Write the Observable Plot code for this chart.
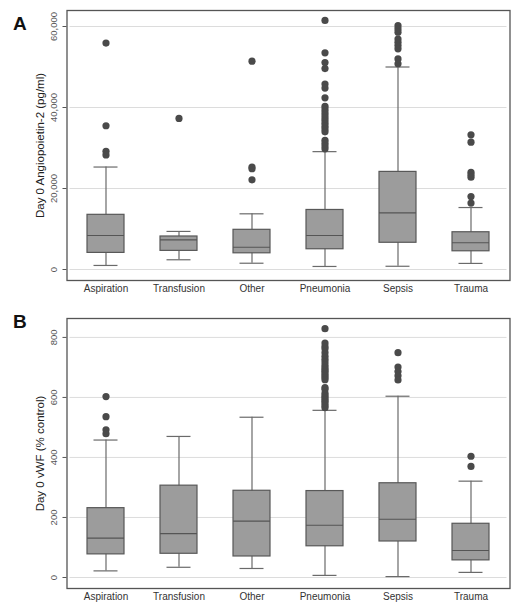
<!DOCTYPE html>
<html><head><meta charset="utf-8">
<script src="https://cdn.jsdelivr.net/npm/d3@7"></script>
<script src="https://cdn.jsdelivr.net/npm/@observablehq/plot@0.6"></script>
<style>
body{margin:0;background:#fff;font-family:"Liberation Sans",Arial,sans-serif;}
.panel{position:relative;width:519px;}
.letter{position:absolute;left:13px;font:bold 19px/1 "Liberation Sans",Arial,sans-serif;color:#111;}
svg{display:block}
</style></head><body>
<div id="A" class="panel"><div class="letter" style="top:14px">A</div></div>
<div id="B" class="panel"><div class="letter" style="top:12px">B</div></div>
<script>
const categories = ["Aspiration","Transfusion","Other","Pneumonia","Sepsis","Trauma"];

// Panel A: Day 0 Angiopoietin-2 (pg/ml)
const angTicks = [0, 20000, 40000, 60000];
const angLow    = [1000, 2400, 1550, 750, 800, 1500];
const angQ1     = [4100, 4600, 4000, 5000, 6600, 4500];
const angMedian = [8400, 7300, 5500, 8400, 14000, 6600];
const angQ3     = [13500, 8150, 9800, 14700, 24100, 9200];
const angHigh   = [25300, 9400, 13750, 29100, 50000, 15300];
const angOutliers = [
  [55900, 35500, 29200, 28300],
  [37300],
  [51450, 25300, 24900, 22150],
  [61500, 53500, 51100, 49600, 45800, 44800, 42400, 40300, 39600, 38900, 38200, 37500, 36800, 36100, 35400, 34700, 34000, 31900, 31200, 30500, 29800],
  [60200, 59400, 58600, 56900, 56100, 55300, 54500, 52000, 50800],
  [33250, 31450, 24000, 23400, 22800, 18000, 16400]
];

// Panel B: Day 0 vWF (% control)
const vwfTicks = [0, 200, 400, 600, 800];
const vwfLow    = [22, 34, 30, 7, 3, 17];
const vwfQ1     = [77, 79, 70, 104, 120, 57];
const vwfMedian = [131, 146, 188, 174, 194, 90];
const vwfQ3     = [231, 306, 289, 288, 314, 179];
const vwfHigh   = [458, 470, 534, 557, 604, 321];
const vwfOutliers = [
  [603, 536, 492, 479],
  [],
  [],
  [829, 781, 770, 762, 749, 737, 727, 718, 708, 700, 693, 687, 680, 673, 666, 659, 633, 627, 614, 606, 600, 593, 587, 580, 572, 566],
  [749, 701, 686, 672, 658],
  [404, 370]
];

function panel({low, q1, median, q3, high, outliers, ticks, domain, height, marginTop, marginBottom, title, fmt}) {
  const boxes = categories.map((c, i) => ({cat: c, low: low[i], q1: q1[i], median: median[i], q3: q3[i], high: high[i]}));
  const out = categories.flatMap((c, i) => outliers[i].map(v => ({cat: c, value: v})));
  const capInset = 6.5;
  return Plot.plot({
    width: 519, height,
    marginTop, marginBottom, marginLeft: 66.5, marginRight: 9.5,
    style: {fontFamily: "'Liberation Sans', Arial, sans-serif", fontSize: "10px", background: "white", color: "#333"},
    x: {domain: categories, paddingInner: 0.5, paddingOuter: 0.25, label: null},
    y: {domain, label: null},
    marks: [
      Plot.gridY(ticks, {stroke: "#dcdcdc", strokeOpacity: 1, insetLeft: 3, insetRight: 3}),
      Plot.ruleX(boxes, {x: "cat", y1: "low", y2: "high", stroke: "#6a6a6a", strokeWidth: 1.2}),
      Plot.tickY(boxes, {x: "cat", y: "low", insetLeft: capInset, insetRight: capInset, stroke: "#6a6a6a", strokeWidth: 1.2}),
      Plot.tickY(boxes, {x: "cat", y: "high", insetLeft: capInset, insetRight: capInset, stroke: "#6a6a6a", strokeWidth: 1.2}),
      Plot.barY(boxes, {x: "cat", y1: "q1", y2: "q3", fill: "#9c9c9c", stroke: "#585858", strokeWidth: 1.2}),
      Plot.tickY(boxes, {x: "cat", y: "median", stroke: "#555", strokeWidth: 1.2}),
      Plot.dot(out, {x: "cat", y: "value", r: 3.6, fill: "#4a4a4a", stroke: null}),
      Plot.axisY(ticks, {tickSize: 4, tickPadding: 6, tickRotate: -90, tickFormat: fmt, fontSize: 9.5, color: "#555", label: null}),
      Plot.axisX({tickSize: 0, tickPadding: 4, fontSize: 10, color: "#333", label: null}),
      Plot.text([title], {frameAnchor: "left", textAnchor: "middle", lineAnchor: "middle", rotate: -90, dx: -26.5, fontSize: 11.5, fill: "#222"}),
      Plot.frame({stroke: "#555", strokeWidth: 1.3})
    ]
  });
}

document.getElementById("A").append(panel({
  low: angLow, q1: angQ1, median: angMedian, q3: angQ3, high: angHigh, outliers: angOutliers,
  ticks: angTicks, domain: [-2716, 63951], height: 300, marginTop: 10, marginBottom: 20,
  title: "Day 0 Angiopoietin-2 (pg/ml)", fmt: d3.format(",")
}));
document.getElementById("B").append(panel({
  low: vwfLow, q1: vwfQ1, median: vwfMedian, q3: vwfQ3, high: vwfHigh, outliers: vwfOutliers,
  ticks: vwfTicks, domain: [-36.7, 863], height: 311, marginTop: 18, marginBottom: 23,
  title: "Day 0 vWF (% control)", fmt: d3.format("d")
}));
</script>
</body></html>
